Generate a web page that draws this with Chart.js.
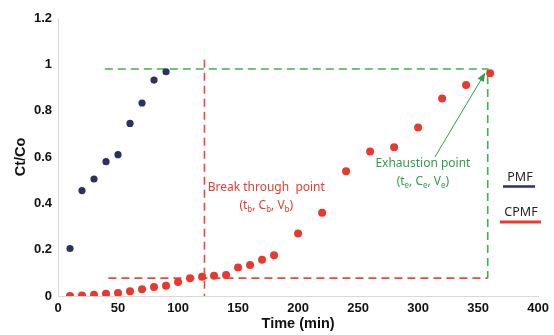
<!DOCTYPE html>
<html><head><meta charset="utf-8">
<script src="https://cdn.jsdelivr.net/npm/chart.js@4.4.1/dist/chart.umd.min.js"></script>
<style>html,body{margin:0;padding:0;background:#fff}#wrap{width:554px;height:335px}</style>
</head><body><div id="wrap"><canvas id="c" width="554" height="335"></canvas></div>
<script>
// Data
const pmfTime = [10, 20, 30, 40, 50, 60, 70, 80, 90];
const pmfCtCo = [0.205, 0.455, 0.505, 0.58, 0.61, 0.745, 0.833, 0.932, 0.968];
const cpmfTime = [10, 20, 30, 40, 50, 60, 70, 80, 90, 100, 110, 120, 130, 140, 150, 160, 170, 180, 200, 220, 240, 260, 280, 300, 320, 340, 360];
const cpmfCtCo = [0.0, 0.002, 0.005, 0.01, 0.013, 0.02, 0.029, 0.039, 0.044, 0.06, 0.077, 0.083, 0.087, 0.091, 0.123, 0.134, 0.156, 0.176, 0.27, 0.359, 0.538, 0.624, 0.642, 0.727, 0.853, 0.911, 0.962];
const xTicks = [0, 50, 100, 150, 200, 250, 300, 350, 400];
const yTicks = [0, 0.2, 0.4, 0.6, 0.8, 1, 1.2];
// Guide lines (data units)
const breakTime = 122;
const breakLevel = 0.077;
const exhaustTime = 358;
const exhaustLevel = 0.98;
const guideStartTime = 42;
const exhaustGuideStart = 39;
const arrowFrom = [314, 0.6];
const arrowTo = [356, 0.965];
const breakLabel = {x: 173.5, y: 0.467, title: 'Break through  point', sub: 'b'};
const exhaustLabel = {x: 304, y: 0.57, title: 'Exhaustion point', sub: 'e'};
const seriesNames = ['PMF', 'CPMF'];

const NAVY = '#2c3160', RED = '#e8392c', REDL = '#ea4a3b', GREEN = '#43b04e', GREENT = '#2f9e48';

function drawRuns(ctx, runs, cx, y, size, color) {
  let total = 0;
  runs.forEach(r => { ctx.font = (r[1] ? Math.round(size*0.7) : size) + 'px "Noto Sans", Inter, sans-serif'; total += ctx.measureText(r[0]).width; });
  let x = cx - total/2;
  ctx.fillStyle = color; ctx.textAlign = 'left'; ctx.textBaseline = 'middle';
  runs.forEach(r => {
    ctx.font = (r[1] ? Math.round(size*0.7) : size) + 'px "Noto Sans", Inter, sans-serif';
    ctx.fillText(r[0], x, r[1] ? y + size*0.3 : y);
    x += ctx.measureText(r[0]).width;
  });
}

const guides = {
  id: 'guides',
  beforeDatasetsDraw(chart) {
    const {ctx, scales: {x, y}} = chart;
    ctx.save();
    ctx.lineWidth = 1.6;
    ctx.strokeStyle = REDL; ctx.setLineDash([8, 5]);
    ctx.beginPath();
    ctx.moveTo(x.getPixelForValue(guideStartTime), y.getPixelForValue(breakLevel));
    ctx.lineTo(x.getPixelForValue(exhaustTime), y.getPixelForValue(breakLevel));
    ctx.stroke();
    ctx.beginPath();
    ctx.moveTo(x.getPixelForValue(breakTime), y.getPixelForValue(1.02));
    ctx.lineTo(x.getPixelForValue(breakTime), y.getPixelForValue(0));
    ctx.stroke();
    ctx.strokeStyle = GREEN;
    ctx.beginPath();
    ctx.moveTo(x.getPixelForValue(exhaustGuideStart), y.getPixelForValue(exhaustLevel));
    ctx.lineTo(x.getPixelForValue(exhaustTime), y.getPixelForValue(exhaustLevel));
    ctx.lineTo(x.getPixelForValue(exhaustTime), y.getPixelForValue(breakLevel));
    ctx.stroke();
    ctx.restore();
  },
  afterDatasetsDraw(chart) {
    const {ctx, scales: {x, y}} = chart;
    ctx.save();
    const x1 = x.getPixelForValue(arrowFrom[0]), y1 = y.getPixelForValue(arrowFrom[1]);
    const x2 = x.getPixelForValue(arrowTo[0]), y2 = y.getPixelForValue(arrowTo[1]);
    ctx.strokeStyle = GREENT; ctx.fillStyle = GREENT; ctx.lineWidth = 1; ctx.setLineDash([]);
    const ang = Math.atan2(y2 - y1, x2 - x1);
    ctx.beginPath(); ctx.moveTo(x1, y1); ctx.lineTo(x2 - 7*Math.cos(ang), y2 - 7*Math.sin(ang)); ctx.stroke();
    ctx.beginPath();
    ctx.moveTo(x2, y2);
    ctx.lineTo(x2 - 9*Math.cos(ang) + 3.5*Math.sin(ang), y2 - 9*Math.sin(ang) - 3.5*Math.cos(ang));
    ctx.lineTo(x2 - 9*Math.cos(ang) - 3.5*Math.sin(ang), y2 - 9*Math.sin(ang) + 3.5*Math.cos(ang));
    ctx.closePath(); ctx.fill();
    [[breakLabel, RED], [exhaustLabel, GREENT]].forEach(([L, col]) => {
      const px = x.getPixelForValue(L.x), py = y.getPixelForValue(L.y);
      drawRuns(ctx, [[L.title, false]], px, py, 12, col);
      drawRuns(ctx, [['(t', false], [L.sub, true], [', C', false], [L.sub, true], [', V', false], [L.sub, true], [')', false]], px, py + 18, 12, col);
    });
    ctx.font = '12.5px "Noto Sans", Inter, sans-serif';
    ctx.textAlign = 'center'; ctx.textBaseline = 'middle'; ctx.fillStyle = '#222';
    ctx.fillText(seriesNames[0], 520, 177);
    ctx.fillText(seriesNames[1], 521, 212);
    ctx.lineWidth = 2.5;
    ctx.strokeStyle = NAVY; ctx.beginPath(); ctx.moveTo(503, 186.5); ctx.lineTo(535, 186.5); ctx.stroke();
    ctx.lineWidth = 3;
    ctx.strokeStyle = RED; ctx.beginPath(); ctx.moveTo(500, 222); ctx.lineTo(541, 222); ctx.stroke();
    ctx.restore();
  }
};

const tickFont = {family: '"Liberation Sans", Arial, sans-serif', size: 13, weight: 'bold'};
const titleFont = {family: '"Liberation Sans", Arial, sans-serif', size: 14.5, weight: 'bold'};
new Chart(document.getElementById('c'), {
  type: 'scatter',
  data: {
    datasets: [
      {label: seriesNames[0], data: pmfTime.map((t, i) => ({x: t, y: pmfCtCo[i]})), backgroundColor: NAVY, borderColor: NAVY, pointRadius: 3.6, pointBorderWidth: 0},
      {label: seriesNames[1], data: cpmfTime.map((t, i) => ({x: t, y: cpmfCtCo[i]})), backgroundColor: RED, borderColor: RED, pointRadius: 4, pointBorderWidth: 0}
    ]
  },
  options: {
    responsive: false, animation: false, devicePixelRatio: 1,
    layout: {padding: {top: 18, right: 11, left: 4, bottom: 2}},
    plugins: {legend: {display: false}, tooltip: {enabled: false}},
    scales: {
      x: {
        type: 'linear', min: 0, max: 400,
        afterBuildTicks: s => { s.ticks = xTicks.map(v => ({value: v})); },
        grid: {display: false, drawTicks: false},
        border: {display: true, color: '#d9d9d9', width: 1},
        ticks: {font: tickFont, color: '#111', padding: 5, maxRotation: 0},
        title: {display: true, text: 'Time (min)', font: titleFont, color: '#111', padding: {top: 2, bottom: 0}},
        afterFit: s => { s.height = 37; }
      },
      y: {
        type: 'linear', min: 0, max: 1.2,
        afterBuildTicks: s => { s.ticks = yTicks.map(v => ({value: v})); },
        grid: {display: false, drawTicks: false},
        border: {display: true, color: '#d9d9d9', width: 1},
        ticks: {font: tickFont, color: '#111', padding: 6, callback: v => String(Math.round(v*10)/10)},
        title: {display: true, text: 'Ct/Co', font: titleFont, color: '#111', padding: {top: 8, bottom: 0}},
        afterFit: s => { s.width = 54; }
      }
    }
  },
  plugins: [guides]
});
</script></body></html>
